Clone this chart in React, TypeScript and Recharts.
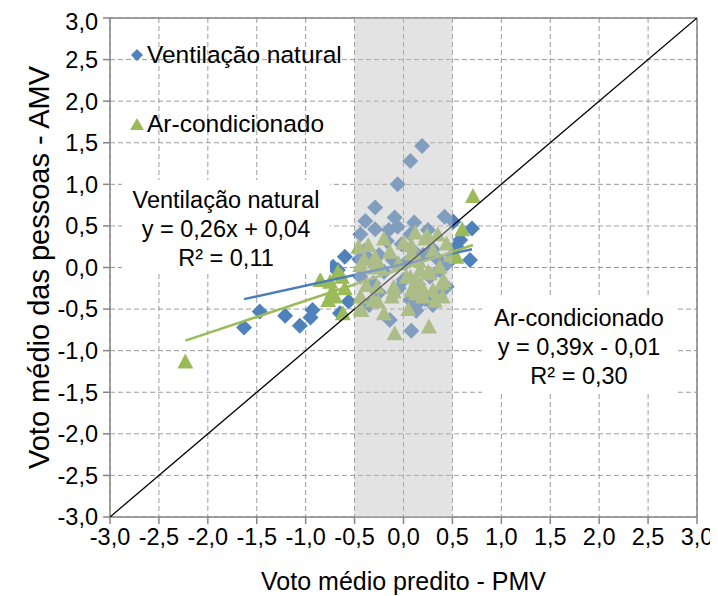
import { ScatterChart, Scatter, XAxis, YAxis, CartesianGrid, ReferenceArea, ReferenceLine } from 'recharts';

// PMV x AMV
const ventilacaoPts = [
  [-1.63, -0.72], [-1.47, -0.53], [-1.21, -0.58], [-1.06, -0.7], [-0.95, -0.6], [-0.93, -0.51],
  [-0.65, -0.55], [-0.6, 0.13], [-0.72, 0.01], [-0.67, -0.03], [-0.56, -0.41],
  [0.19, 1.46], [0.07, 1.28], [-0.06, 1.0], [-0.29, 0.72], [-0.39, 0.56], [-0.29, 0.46],
  [-0.09, 0.6], [-0.06, 0.49], [0.11, 0.54], [0.42, 0.61], [-0.44, 0.4], [-0.17, 0.32],
  [0.07, 0.4], [-0.02, 0.28], [-0.14, -0.63], [0.08, -0.76], [0.13, -0.45], [0.13, -0.52],
  [0.07, -0.39], [0.37, -0.03], [-0.44, -0.11], [-0.31, -0.19], [-0.11, 0.09], [0.37, -0.31],
  [0.44, -0.23], [0.27, -0.11], [-0.2, -0.05], [0.02, 0.05], [0.2, 0.15], [0.3, 0.22],
  [0.15, -0.2], [-0.05, -0.25], [0.45, 0.05], [-0.25, -0.3], [0.22, -0.38], [-0.35, 0.1],
  [-0.4, 0.2], [-0.15, 0.45], [0.25, 0.45], [0.3, -0.45], [-0.35, -0.45], [0.0, -0.15],
  [0.1, 0.2], [-0.25, 0.15], [0.35, 0.1], [-0.45, 0.1],
  [0.51, 0.55], [0.7, 0.47], [0.68, 0.09], [0.58, 0.33], [0.54, 0.25],
];

const arCondPts = [
  [-2.23, -1.13], [-0.85, -0.15], [-0.75, -0.17], [-0.73, -0.29], [-0.7, -0.35], [-0.67, -0.05],
  [-0.63, -0.11], [-0.62, -0.55], [-0.77, -0.39], [-0.6, -0.25],
  [-0.46, 0.25], [-0.36, 0.27], [-0.29, 0.13], [-0.14, 0.19], [0.08, 0.17], [0.08, 0.27],
  [0.22, 0.35], [0.24, 0.39], [0.35, 0.4], [0.44, 0.29], [-0.44, 0.03], [-0.24, 0.01],
  [-0.05, 0.05], [0.15, 0.09], [0.17, -0.03], [0.25, -0.05], [0.37, 0.01], [0.48, 0.15],
  [0.27, -0.07], [0.41, -0.15], [0.07, -0.11], [0.03, -0.11], [0.13, -0.15], [-0.38, -0.21],
  [-0.27, -0.23], [-0.1, -0.23], [-0.1, -0.29], [0.08, -0.27], [0.19, -0.23], [0.3, -0.27],
  [0.39, -0.19], [-0.44, -0.35], [-0.31, -0.39], [-0.26, -0.41], [-0.12, -0.35], [0.2, -0.35],
  [0.13, -0.31], [-0.44, -0.49], [-0.43, -0.51], [-0.09, -0.79], [0.26, -0.71],
  [-0.2, 0.35], [0.0, 0.3], [0.3, 0.2], [0.4, -0.35], [-0.3, 0.0], [-0.2, -0.55],
  [0.05, -0.5], [0.32, -0.4], [-0.4, 0.1], [0.12, 0.42],
  [0.71, 0.86], [0.6, 0.46], [0.54, 0.13],
];

// trendline ends (y = 0.26x + 0.04 and y = 0.39x - 0.01)
const ventTrend = [[-1.63, -0.38], [0.7, 0.22]];
const arTrend = [[-2.23, -0.88], [0.71, 0.27]];
const identity = [[-3, -3], [3, 3]];

const axisTicks = [-3, -2.5, -2, -1.5, -1, -0.5, 0, 0.5, 1, 1.5, 2, 2.5, 3];

const toXY = (pts: number[][]) => pts.map(([x, y]) => ({ x, y }));
const fmt = (v: number) => v.toFixed(1).replace('.', ',');

const BLUE = '#4f81bd';
const GREEN = '#9bbb59';
const AXIS = '#868686';
const FONT = 'Liberation Sans, Arial, sans-serif';

const Diamond = (p: any) => {
  const { cx, cy } = p;
  const r = 8;
  return <path d={`M${cx},${cy - r}L${cx + r},${cy}L${cx},${cy + r}L${cx - r},${cy}Z`} fill={BLUE} />;
};

const Triangle = (p: any) => {
  const { cx, cy } = p;
  return <path d={`M${cx},${cy - 8}L${cx + 8},${cy + 7}L${cx - 8},${cy + 7}Z`} fill={GREEN} />;
};

const Nothing = () => <g />;

const YLabel = (p: any) => {
  const { viewBox } = p;
  const cy = viewBox.y + viewBox.height / 2;
  return (
    <text x={31} y={cy} transform={`rotate(-90, 31, ${cy})`} textAnchor="middle" dominantBaseline="central"
      fontSize={29} fontFamily={FONT} fill="#000">
      Voto médio das pessoas - AMV
    </text>
  );
};

const boxStyle: any = {
  position: 'absolute',
  background: '#fff',
  textAlign: 'center',
  fontFamily: FONT,
  fontSize: 23.5,
  lineHeight: '29px',
  color: '#000',
  paddingTop: 6,
  boxSizing: 'border-box',
};

export default function App() {
  return (
    <div style={{ position: 'relative', width: 710, height: 588 }}>
      <ScatterChart width={710} height={588} margin={{ top: 10, right: 21, bottom: 0, left: 0 }}>
        <CartesianGrid strokeDasharray="5 3" stroke="#9c9c9c" />
        <XAxis
          type="number"
          dataKey="x"
          domain={[-3, 3]}
          ticks={axisTicks}
          tickFormatter={fmt}
          height={79}
          stroke={AXIS}
          strokeWidth={1.5}
          tickSize={7}
          tickMargin={4}
          tick={{ fill: '#000', fontSize: 23.5, fontFamily: FONT }}
          label={{ value: 'Voto médio predito - PMV', position: 'insideBottom', offset: 6, fill: '#000', fontSize: 25, fontFamily: FONT }}
          allowDataOverflow
        />
        <YAxis
          type="number"
          dataKey="y"
          domain={[-3, 3]}
          ticks={axisTicks}
          tickFormatter={fmt}
          width={102}
          stroke={AXIS}
          strokeWidth={1.5}
          tickSize={7}
          tickMargin={5}
          tick={{ fill: '#000', fontSize: 23.5, fontFamily: FONT }}
          label={<YLabel />}
          allowDataOverflow
        />
        <ReferenceLine y={3} stroke={AXIS} strokeWidth={1.5} />
        <ReferenceLine x={3} stroke={AXIS} strokeWidth={1.5} />
        <Scatter name="Ventilação natural" data={toXY(ventilacaoPts)} shape={Diamond} isAnimationActive={false} />
        <Scatter name="Ar-condicionado" data={toXY(arCondPts)} shape={Triangle} isAnimationActive={false} />
        <Scatter data={toXY(ventTrend)} line={{ stroke: '#4a7ebb', strokeWidth: 2.5 }} shape={Nothing} isAnimationActive={false} />
        <Scatter data={toXY(arTrend)} line={{ stroke: GREEN, strokeWidth: 2.5 }} shape={Nothing} isAnimationActive={false} />
        <Scatter data={toXY(identity)} line={{ stroke: '#000', strokeWidth: 1.3 }} shape={Nothing} isAnimationActive={false} />
        <ReferenceArea x1={-0.5} x2={0.5} y1={-3} y2={3} fill="#c0c0c0" fillOpacity={0.45} stroke="none" zIndex={1500} />
      </ScatterChart>

      {/* legend */}
      <div style={{ position: 'absolute', left: 119, top: 32, fontFamily: FONT, fontSize: 24.5, lineHeight: '30px', color: '#000' }}>
        <div style={{ display: 'flex', alignItems: 'center' }}>
          <svg width={20} height={14}><path d="M10,1L16,7L10,13L4,7Z" fill={BLUE} /></svg>
          <span>Ventilação natural</span>
        </div>
        <div style={{ display: 'flex', alignItems: 'center', marginTop: 39 }}>
          <svg width={20} height={14}><path d="M10,1L17,13L3,13Z" fill={GREEN} /></svg>
          <span>Ar-condicionado</span>
        </div>
      </div>

      {/* trendline labels */}
      <div style={{ ...boxStyle, left: 114, top: 172, width: 208, height: 93 }}>
        Ventilação natural<br />y = 0,26x + 0,04<br />R² = 0,11
      </div>
      <div style={{ ...boxStyle, left: 474, top: 290, width: 194, height: 95 }}>
        Ar-condicionado<br />y = 0,39x - 0,01<br />R² = 0,30
      </div>
    </div>
  );
}
